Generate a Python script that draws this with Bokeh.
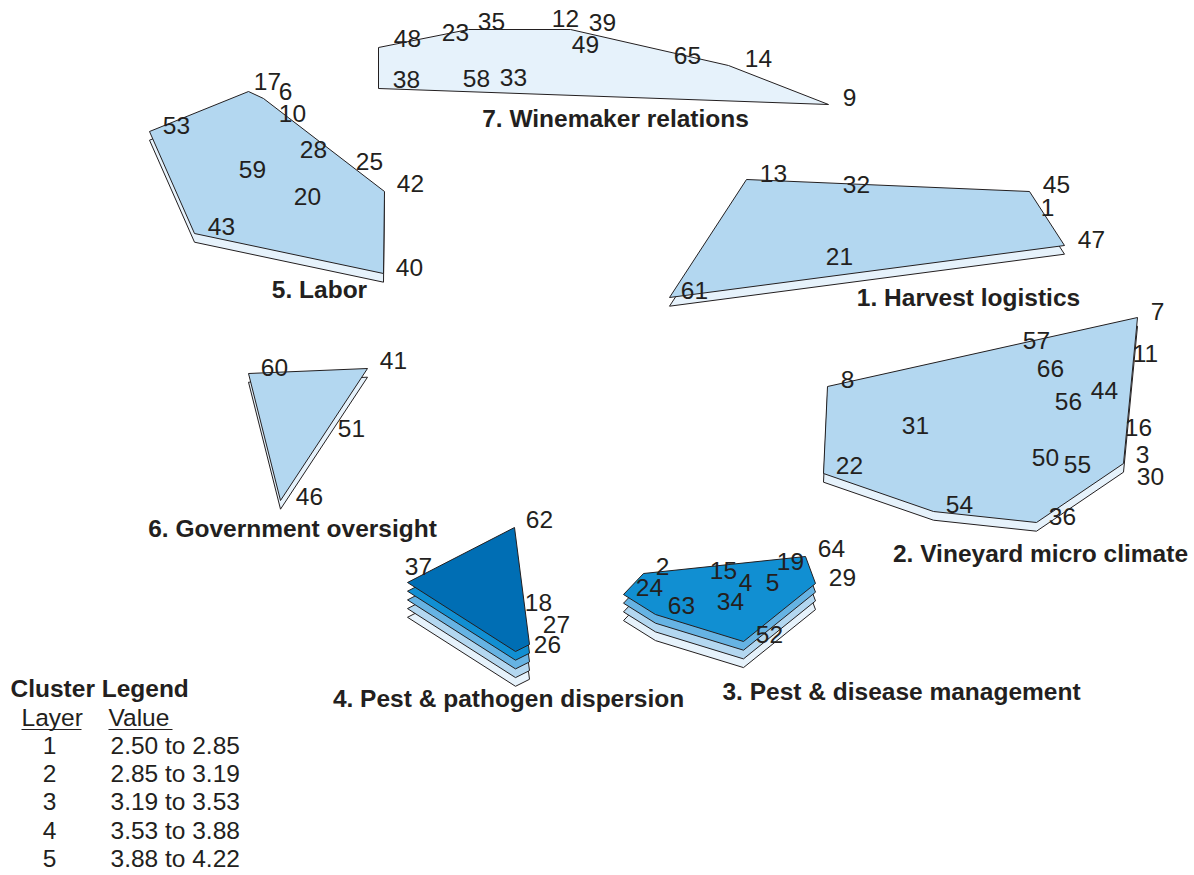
from bokeh.plotting import figure
from bokeh.models import Range1d
from bokeh.embed import file_html
from bokeh.resources import INLINE
from bokeh.core.properties import value

# ---------------- data ----------------
cluster_names = ["1. Harvest logistics", "2. Vineyard micro climate",
                 "3. Pest & disease management", "4. Pest & pathogen dispersion",
                 "5. Labor", "6. Government oversight", "7. Winemaker relations"]
cluster_layers = [2, 2, 4, 5, 2, 2, 1]
cluster_label_x = [968, 1040, 901, 508, 319, 292, 615]
cluster_label_y = [297, 553, 691, 698, 289, 528, 118]

hull_x = [
    [746, 1029, 1064, 669],
    [827, 1137, 1123, 1036, 933, 823],
    [643, 805, 815, 743, 655, 623],
    [407, 514, 529, 515],
    [149, 248, 263, 384, 383, 194],
    [248, 367, 280],
    [378, 468, 570, 728, 828, 378],
]
hull_y = [
    [179, 191, 245, 297],
    [386, 317, 463, 522, 511, 473],
    [573, 556, 583, 641, 614, 594],
    [582, 527, 644, 651],
    [131, 91, 98, 191, 273, 233],
    [373, 368, 500],
    [47, 29, 29, 65, 104, 88],
]

point_ids = ["13", "32", "45", "1", "47", "21", "61",
             "7", "57", "11", "8", "66", "44", "56", "31", "16", "3", "50", "55", "22", "30", "54", "36",
             "2", "64", "15", "19", "29", "24", "4", "5", "63", "34", "52",
             "37", "62", "18", "27", "26",
             "17", "6", "10", "53", "28", "25", "59", "42", "20", "43", "40",
             "60", "41", "51", "46",
             "48", "23", "35", "12", "39", "49", "65", "14", "9", "38", "58", "33"]
point_x = [773, 856, 1056, 1047, 1091, 839, 694,
           1157, 1036, 1145, 847, 1050, 1104, 1068, 915, 1138, 1142, 1045, 1077, 849, 1150, 959, 1062,
           662, 831, 723, 790, 842, 649, 745, 772, 681, 730, 769,
           418, 539, 538, 556, 547,
           267, 285, 292, 176, 313, 369, 252, 410, 307, 221, 409,
           274, 393, 351, 309,
           407, 455, 491, 565, 602, 585, 687, 758, 849, 406, 476, 513]
point_y = [173, 184, 184, 207, 239, 256, 290,
           311, 340, 353, 379, 368, 390, 401, 425, 427, 454, 457, 464, 465, 476, 504, 516,
           566, 548, 570, 561, 577, 587, 582, 582, 605, 601, 634,
           566, 519, 602, 624, 644,
           81, 91, 113, 125, 149, 161, 169, 183, 196, 226, 267,
           367, 360, 428, 496,
           38, 32, 21, 18, 22, 44, 55, 58, 97, 79, 78, 77]

legend_title = "Cluster Legend"
legend_headers = ["Layer", "Value"]
legend_layer = ["1", "2", "3", "4", "5"]
legend_value = ["2.50 to 2.85", "2.85 to 3.19", "3.19 to 3.53", "3.53 to 3.88", "3.88 to 4.22"]

# ---------------- style ----------------
layer_colors = ["#e6f2fb", "#b3d7f0", "#66b3e3", "#118fd2", "#006eb4"]
ink = "#231f20"
FONT = value("Liberation Sans")
LAYER_STEP = 8.7
FS = "24.5px"
W, H = 1192, 873

p = figure(width=W, height=H, output_backend="svg", toolbar_location=None,
           x_range=Range1d(0, W), y_range=Range1d(H, 0),
           min_border=0, min_border_left=0, min_border_right=0,
           min_border_top=0, min_border_bottom=0)
p.axis.visible = False
p.grid.visible = False
p.outline_line_color = None
p.background_fill_color = "white"
p.border_fill_color = "white"

# layered cluster polygons
xs, ys, fills = [], [], []
for hx, hy, n in zip(hull_x, hull_y, cluster_layers):
    for layer in range(1, n + 1):
        off = (n - layer) * LAYER_STEP
        xs.append(list(hx))
        ys.append([v + off for v in hy])
        fills.append(layer_colors[layer - 1])
p.patches(xs=xs, ys=ys, fill_color=fills, line_color=ink, line_width=1)

txt = dict(text_font=FONT, text_font_size=FS, text_color=ink, text_baseline="middle")

# point labels
p.text(x=point_x, y=point_y, text=point_ids, text_align="center", **txt)

# cluster labels
p.text(x=cluster_label_x, y=cluster_label_y, text=cluster_names,
       text_font_style="bold", text_align="center", **txt)

# legend
p.text(x=[10], y=[688], text=[legend_title], text_font_style="bold", text_align="left", **txt)
p.text(x=[21, 108], y=[717, 717], text=legend_headers, text_align="left", **txt)
p.segment(x0=[21, 108], y0=[729, 729], x1=[81, 172], y1=[729, 729], line_color=ink, line_width=1.2)
row_y = [745 + 28.2 * i for i in range(len(legend_layer))]
p.text(x=[49] * len(legend_layer), y=row_y, text=legend_layer, text_align="center", **txt)
p.text(x=[110] * len(legend_value), y=row_y, text=legend_value, text_align="left", **txt)

open("out.html", "w").write(file_html(p, INLINE))
